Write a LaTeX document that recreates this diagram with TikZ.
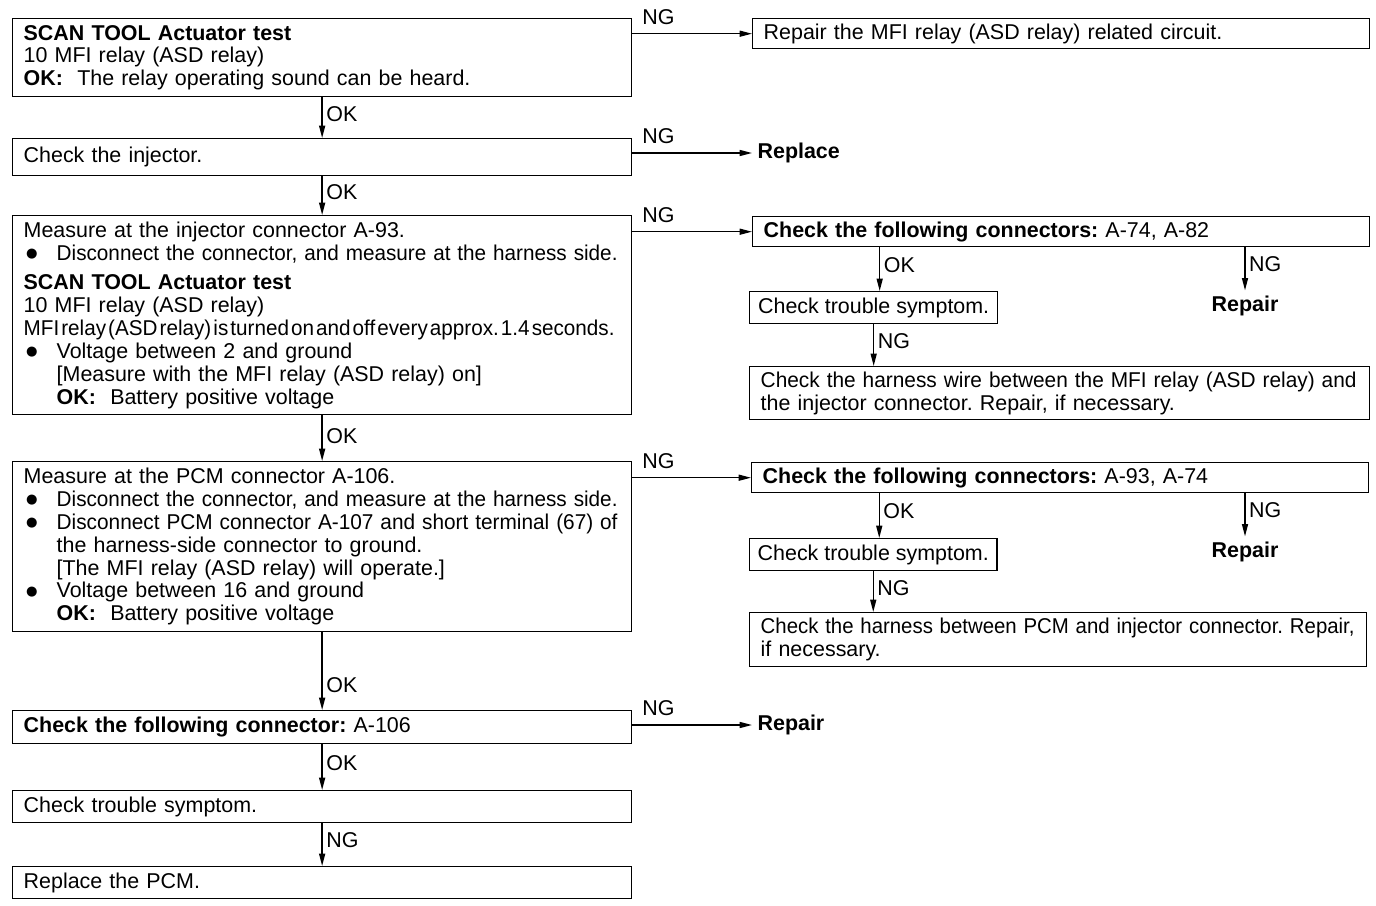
\documentclass[tikz,border=0pt]{standalone}
\usepackage{fontspec}
\usepackage{graphicx}
\setmainfont{Liberation Sans}
\newfontfamily\dotfont{DejaVu Sans}
\usetikzlibrary{arrows.meta}

\newcommand*{\fsz}{\fontsize{12.2}{13}\selectfont\frenchspacing}
\newcommand*{\boxw}{11.94cm}
\newcommand*{\sidew}{11.90cm}
\newcommand*{\bul}{\makebox[0.66cm][l]{\hspace{0.05cm}\raisebox{0.12em}{\dotfont\fontsize{7.5}{7.5}\selectfont ●}}}
\newcommand*{\ind}{\hspace*{0.66cm}}
\newcommand*{\fitline}[2]{\resizebox{#1}{\height}{#2}}

\begin{document}
\begin{tikzpicture}
[
	x=0.02cm, y=-0.02cm,
	every node/.style={font=\fsz},
	stepbox/.style={draw,line width=0.8pt,anchor=north west,inner xsep=0.22cm,inner ysep=0pt,align=left},
	plain/.style={font=\fsz\bfseries,inner sep=3pt},
	arr/.style={-{Triangle[length=7pt,width=3.4pt]},line width=0.8pt},
	lbl/.style={inner sep=2pt},
	nglbl/.style={inner xsep=2pt,inner ysep=5pt}
]

	\useasboundingbox (0,0) rectangle (1376,906);

	% main column
	\node[stepbox,text width=\boxw,minimum height=1.56cm] (scan) at (12,18)
		{\textbf{SCAN TOOL Actuator test}\\
		10 MFI relay (ASD relay)\\
		\textbf{OK:}\ \ The relay operating sound can be heard.};
	\node[stepbox,text width=\boxw,minimum height=0.74cm] (inj) at (12,138) {Check the injector.};
	\node[stepbox,text width=\boxw,minimum height=3.98cm] (injcon) at (12,215)
		{Measure at the injector connector A-93.\\
		\bul \fitline{11.22cm}{Disconnect the connector, and measure at the harness side.}\\[0.14cm]
		\textbf{SCAN TOOL Actuator test}\\
		10 MFI relay (ASD relay)\\
		\fitline{11.82cm}{\spaceskip=0.1em MFI relay (ASD relay) is turned on and off every approx. 1.4 seconds.}\\
		\bul Voltage between 2 and ground\\
		\ind [Measure with the MFI relay (ASD relay) on]\\
		\ind \textbf{OK:}\ \ Battery positive voltage};
	\node[stepbox,text width=\boxw,minimum height=3.4cm] (pcm) at (12,461)
		{Measure at the PCM connector A-106.\\
		\bul \fitline{11.22cm}{Disconnect the connector, and measure at the harness side.}\\
		\bul \fitline{11.22cm}{Disconnect PCM connector A-107 and short terminal (67) of}\\
		\ind the harness-side connector to ground.\\
		\ind [The MFI relay (ASD relay) will operate.]\\
		\bul Voltage between 16 and ground\\
		\ind \textbf{OK:}\ \ Battery positive voltage};
	\node[stepbox,text width=\boxw,minimum height=0.66cm] (conpcm) at (12,710)
		{\textbf{Check the following connector:} A-106};
	\node[stepbox,text width=\boxw,minimum height=0.64cm] (symC) at (12,790) {Check trouble symptom.};
	\node[stepbox,text width=\boxw,minimum height=0.64cm] (pcmrep) at (12,866) {Replace the PCM.};

	% right side
	\node[stepbox,text width=\sidew,minimum height=0.6cm] (circuit) at (752,18)
		{Repair the MFI relay (ASD relay) related circuit.};
	\node[plain,anchor=west] (replace) at (752,153) {Replace};

	\node[stepbox,text width=\sidew,minimum height=0.6cm] (conna) at (752,216)
		{\textbf{Check the following connectors:} A-74, A-82};
	\node[stepbox,inner xsep=0.16cm,minimum width=4.96cm,minimum height=0.64cm] (symA) at (749,291) {Check trouble symptom.};
	\node[plain] (repA) at (1245,306) {Repair};
	\node[stepbox,text width=11.96cm,minimum height=1.06cm] (wireA) at (749,366)
		{\fitline{11.92cm}{Check the harness wire between the MFI relay (ASD relay) and}\\
		the injector connector. Repair, if necessary.};

	\node[stepbox,text width=\sidew,minimum height=0.6cm] (connb) at (751,462)
		{\textbf{Check the following connectors:} A-93, A-74};
	\node[stepbox,inner xsep=0.16cm,minimum width=4.94cm,minimum height=0.64cm] (symB) at (749,538) {Check trouble symptom.};
	\node[plain] (repB) at (1245,552) {Repair};
	\node[stepbox,text width=11.9cm,minimum height=1.08cm] (wireB) at (749,612)
		{\fitline{11.88cm}{Check the harness between PCM and injector connector. Repair,}\\
		if necessary.};

	\node[plain,anchor=west] (repC) at (752,725) {Repair};

	% OK path
	\draw[arr] (scan) -- node[pos=0.4,right,lbl] {OK} (inj);
	\draw[arr] (inj) -- node[pos=0.4,right,lbl] {OK} (injcon);
	\draw[arr] (injcon) -- node[pos=0.45,right,lbl] {OK} (pcm);
	\draw[arr] (pcm) -- node[pos=0.68,right,lbl] {OK} (conpcm);
	\draw[arr] (conpcm) -- node[pos=0.4,right,lbl] {OK} (symC);
	\draw[arr] (symC) -- node[pos=0.4,right,lbl] {NG} (pcmrep);

	% NG branches
	\draw[arr] (scan.east |- circuit.west) -- node[pos=0.05,above right,nglbl] {NG} (circuit.west);
	\draw[arr] (inj.east |- replace.west) -- node[pos=0.05,above right,nglbl] {NG} (replace.west);
	\draw[arr] (injcon.east |- conna.west) -- node[pos=0.05,above right,nglbl] {NG} (conna.west);
	\draw[arr] (pcm.east |- connb.west) -- node[pos=0.05,above right,nglbl] {NG} (connb.west);
	\draw[arr] (conpcm.east |- repC.west) -- node[pos=0.05,above right,nglbl] {NG} (repC.west);

	% connector checks
	\draw[arr] ([xshift=0.12cm]conna.south -| symA.north) -- node[pos=0.4,right,lbl] {OK} ([xshift=0.12cm]symA.north);
	\draw[arr] (conna.south -| repA.north) -- node[pos=0.4,right,lbl] {NG} (repA.north);
	\draw[arr] (symA.south) -- node[pos=0.4,right,lbl] {NG} (symA.south |- wireA.north);

	\draw[arr] ([xshift=0.12cm]connb.south -| symB.north) -- node[pos=0.4,right,lbl] {OK} ([xshift=0.12cm]symB.north);
	\draw[arr] (connb.south -| repB.north) -- node[pos=0.4,right,lbl] {NG} (repB.north);
	\draw[arr] (symB.south) -- node[pos=0.4,right,lbl] {NG} (symB.south |- wireB.north);

\end{tikzpicture}
\end{document}
